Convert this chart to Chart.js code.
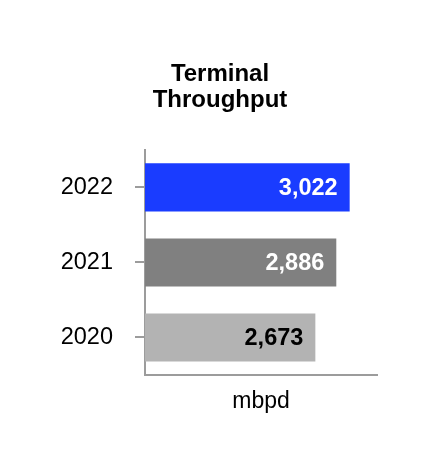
<!DOCTYPE html>
<html>
<head>
<meta charset="utf-8">
<script src="https://cdn.jsdelivr.net/npm/chart.js@4"></script>
<style>
  html, body { margin: 0; padding: 0; background: #ffffff; }
  #wrap { width: 440px; height: 476px; position: relative; }
</style>
</head>
<body>
<div id="wrap"><canvas id="c" width="440" height="476"></canvas></div>
<script>
const categories = ['2022', '2021', '2020'];
const values = [3022, 2886, 2673];
const valueLabels = ['3,022', '2,886', '2,673'];
const barColors = ['#1a3cff', '#808080', '#b3b3b3'];
const labelColors = ['#ffffff', '#ffffff', '#000000'];
const titleLines = ['Terminal', 'Throughput'];
const unitLabel = 'mbpd';

const FONT = '"Liberation Sans", Arial, Helvetica, sans-serif';
const axisGray = '#9c9c9c';

const valueLabelPlugin = {
  id: 'valueLabels',
  afterDatasetsDraw(chart) {
    const ctx = chart.ctx;
    const meta = chart.getDatasetMeta(0);
    ctx.save();
    ctx.font = 'bold 23.5px ' + FONT;
    ctx.textAlign = 'right';
    ctx.textBaseline = 'middle';
    meta.data.forEach((bar, i) => {
      ctx.fillStyle = labelColors[i];
      ctx.fillText(valueLabels[i], bar.x - 12, bar.y + 1);
    });
    ctx.restore();
  }
};

new Chart(document.getElementById('c'), {
  type: 'bar',
  data: {
    labels: categories,
    datasets: [{
      data: values,
      backgroundColor: barColors,
      borderWidth: 0,
      categoryPercentage: 1,
      barPercentage: 0.64
    }]
  },
  options: {
    indexAxis: 'y',
    responsive: false,
    animation: false,
    layout: { padding: { left: 0, right: 0, top: 0, bottom: 0 } },
    plugins: {
      legend: { display: false },
      tooltip: { enabled: false },
      title: {
        display: true,
        text: titleLines,
        color: '#000000',
        font: { family: FONT, size: 24, weight: 'bold', lineHeight: 1.08 },
        padding: { top: 61, bottom: 37 }
      }
    },
    scales: {
      y: {
        afterFit(scale) { scale.width = 145; },
        grid: {
          display: true,
          drawOnChartArea: false,
          drawTicks: true,
          tickLength: 10,
          offset: false,
          color: axisGray,
          lineWidth: 2
        },
        border: { display: true, color: axisGray, width: 2 },
        ticks: {
          color: '#000000',
          padding: 22,
          font: { family: FONT, size: 23.5 }
        }
      },
      yRight: {
        type: 'category',
        axis: 'y',
        position: 'right',
        afterFit(scale) { scale.width = 63; },
        grid: { display: false },
        border: { display: false },
        ticks: { display: false }
      },
      x: {
        min: 940,
        max: 3300,
        afterFit(scale) { scale.height = 101; },
        grid: { display: false },
        border: { display: true, color: axisGray, width: 2 },
        ticks: { display: false },
        title: {
          display: true,
          text: unitLabel,
          color: '#000000',
          font: { family: FONT, size: 23 },
          padding: { top: 0, bottom: 61 }
        }
      }
    }
  },
  plugins: [valueLabelPlugin]
});
</script>
</body>
</html>
